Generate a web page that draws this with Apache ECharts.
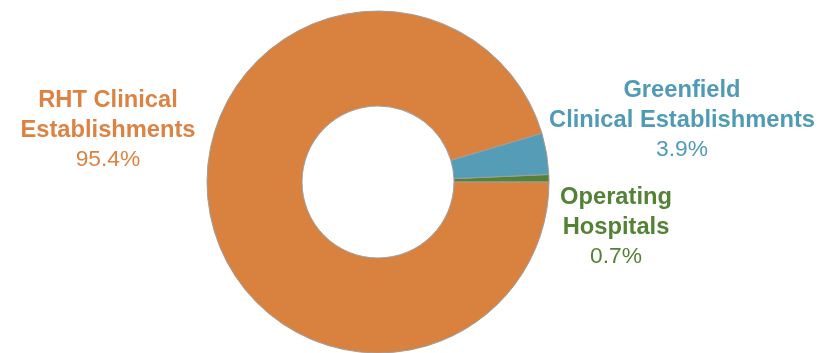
<!DOCTYPE html>
<html>
<head>
<meta charset="utf-8">
<script src="https://cdn.jsdelivr.net/npm/echarts@6/dist/echarts.min.js"></script>
<style>
html,body{margin:0;padding:0;background:#fff;}
#c{width:837px;height:353px;}
</style>
</head>
<body>
<div id="c"></div>
<script>
var names = ['Operating\nHospitals', 'Greenfield\nClinical Establishments', 'RHT Clinical\nEstablishments'];
var values = [0.7, 3.9, 95.4];
var colors = ['#548235', '#559CB6', '#D9823F'];
var textColors = ['#548235', '#4F9BB6', '#DB8343'];

var labelPos = [
  {x: 616, y: 183},
  {x: 682, y: 76},
  {x: 108, y: 86}
];

var FONT = '"Liberation Sans", Arial, sans-serif';

var chart = echarts.init(document.getElementById('c'), null, {renderer: 'canvas'});
chart.setOption({
  animation: false,
  series: [{
    type: 'pie',
    center: [378, 182],
    radius: [76, 171],
    startAngle: 0,
    clockwise: false,
    avoidLabelOverlap: false,
    silent: true,
    itemStyle: {borderColor: '#9E9E9E', borderWidth: 1},
    label: {
      show: true,
      position: 'outside',
      formatter: function (p) {
        return '{n|' + p.name + '}\n{p|' + p.value.toFixed(1) + '%}';
      },
      rich: {
        n: {fontFamily: FONT, fontSize: 23.7, fontWeight: 'bold', lineHeight: 29.5, align: 'center'},
        p: {fontFamily: FONT, fontSize: 22.8, fontWeight: 'normal', lineHeight: 29.5, align: 'center'}
      }
    },
    labelLine: {show: false},
    labelLayout: function (params) {
      var lp = labelPos[params.dataIndex];
      return {x: lp.x, y: lp.y, align: 'center', verticalAlign: 'top'};
    },
    data: values.map(function (v, i) {
      return {
        name: names[i],
        value: v,
        itemStyle: {color: colors[i]},
        label: {color: textColors[i], rich: {n: {color: textColors[i], fontFamily: FONT}, p: {color: textColors[i], fontFamily: FONT}}}
      };
    })
  }]
});
</script>
</body>
</html>
